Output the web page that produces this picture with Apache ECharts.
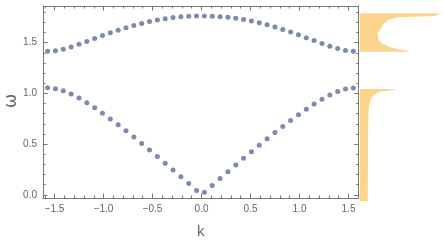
<!DOCTYPE html>
<html>
<head>
<meta charset="utf-8">
<script src="https://cdn.jsdelivr.net/npm/echarts@6/dist/echarts.min.js"></script>
<style>html,body{margin:0;padding:0;background:#fff}#c{width:444px;height:244px}</style>
</head>
<body>
<div id="c"></div>
<script>
// wave number k (sample positions)
const kValues = [-1.5708,-1.4908,-1.4108,-1.3308,-1.2508,-1.1708,-1.0908,-1.0108,-0.9308,-0.8508,-0.7708,-0.6908,-0.6108,-0.5308,-0.4508,-0.3708,-0.2908,-0.2108,-0.1308,-0.0508,0.0292,0.1092,0.1892,0.2692,0.3492,0.4292,0.5092,0.5892,0.6692,0.7492,0.8292,0.9092,0.9892,1.0692,1.1492,1.2292,1.3092,1.3892,1.4692,1.5492];
// optical branch ω
const omegaOptical = [1.414,1.420,1.435,1.457,1.484,1.512,1.541,1.569,1.597,1.623,1.647,1.669,1.689,1.707,1.723,1.736,1.747,1.755,1.760,1.763,1.763,1.761,1.756,1.749,1.739,1.727,1.712,1.695,1.675,1.653,1.630,1.604,1.577,1.549,1.520,1.491,1.464,1.441,1.423,1.415];
// acoustic branch ω
const omegaAcoustic = [1.054,1.046,1.025,0.993,0.953,0.908,0.858,0.804,0.748,0.690,0.630,0.569,0.506,0.442,0.377,0.311,0.245,0.178,0.111,0.043,0.025,0.092,0.160,0.227,0.293,0.359,0.424,0.489,0.552,0.614,0.674,0.733,0.790,0.844,0.895,0.942,0.983,1.017,1.042,1.053];
// density of states outline (upper band)
const dosUpperOmega   = [1.417,1.417,1.428,1.442,1.468,1.500,1.530,1.600,1.675,1.726,1.751,1.765,1.790,1.790];
const dosUpperDensity = [0,    0.57, 0.57, 0.45, 0.33, 0.26, 0.22, 0.21, 0.27, 0.33, 0.45, 0.90, 0.95, 0];
// density of states outline (lower band)
const dosLowerOmega   = [-0.032,-0.032,0.50, 0.80, 0.90, 0.95, 0.997,1.029,1.047,1.056,1.056];
const dosLowerDensity = [0,     0.092, 0.095,0.10, 0.11, 0.125,0.16, 0.24, 0.42, 0.42, 0];
// tick labels
const xTickLabels = [-1.5,-1.0,-0.5,0.0,0.5,1.0,1.5];
const yTickLabels = [0.0,0.5,1.0,1.5];
const xAxisTitle = 'k';
const yAxisTitle = '\u03c9';

const xMin = -1.618, xMax = 1.604, yMin = -0.032, yMax = 1.861;
function minorTicks(lo, hi, majors){
  const out=[];
  for(let i=Math.ceil(lo*10);i<=Math.floor(hi*10);i++){
    const v=i/10; if(!majors.some(m=>Math.abs(m-v)<1e-9)) out.push(v);
  }
  return out;
}
const xMinor = minorTicks(xMin,xMax,xTickLabels);
const yMinor = minorTicks(yMin,yMax,yTickLabels);

const frameColor = '#777';
const fmt = v => (v<0?'\u2212':'') + Math.abs(v).toFixed(1);
function xAx(pos, major, labels){
  return {type:'value', gridIndex:0, position:pos, min:xMin, max:xMax,
    axisLine:{show:major, onZero:false, lineStyle:{color:frameColor,width:1}},
    splitLine:{show:false},
    axisTick:{show:true, inside:true, length: major?4.5:2.5, customValues: major?xTickLabels:xMinor, lineStyle:{color:frameColor}},
    axisLabel:{show:labels, customValues:xTickLabels, formatter:fmt, color:'#666', fontSize:10, fontFamily:'Liberation Sans', margin:6},
    name: labels?xAxisTitle:'', nameLocation:'middle', nameGap:26,
    nameTextStyle:{color:'#666', fontSize:15, fontFamily:'Liberation Sans'}};
}
function yAx(pos, major, labels){
  return {type:'value', gridIndex:0, position:pos, min:yMin, max:yMax,
    axisLine:{show:major, onZero:false, lineStyle:{color:frameColor,width:1}},
    splitLine:{show:false},
    axisTick:{show:true, inside:true, length: major?4.5:2.5, customValues: major?yTickLabels:yMinor, lineStyle:{color:frameColor}},
    axisLabel:{show:labels, customValues:yTickLabels, formatter:fmt, color:'#666', fontSize:10, fontFamily:'Liberation Sans', margin:6}};
}
const fillColor = '#FCD48C';
function polySeries(om, de){
  return {type:'custom', xAxisIndex:4, yAxisIndex:4, coordinateSystem:'cartesian2d',
    data: om.map((w,i)=>[de[i], w]),
    renderItem:function(params, api){
      if(params.dataIndex!==0) return null;
      const pts = om.map((w,i)=>api.coord([de[i], w]));
      return {type:'polygon', shape:{points:pts}, style:{fill:fillColor}};
    }, silent:true, animation:false};
}
const chart = echarts.init(document.getElementById('c'));
chart.setOption({
  animation:false,
  grid:[{left:43, top:6, width:315.7, height:195},
        {left:360, top:6, width:84, height:195}],
  graphic:[{type:'text', x:12, y:101, rotation:Math.PI/2,
    style:{text:yAxisTitle, fill:'#666', fontSize:17, fontFamily:'DejaVu Sans', align:'center', verticalAlign:'middle'}}],
  xAxis:[xAx('bottom',true,true), xAx('bottom',false,false), xAx('top',true,false), xAx('top',false,false),
    {type:'value', gridIndex:1, min:0, max:1, show:false}],
  yAxis:[yAx('left',true,true), yAx('left',false,false), yAx('right',true,false), yAx('right',false,false),
    {type:'value', gridIndex:1, min:yMin, max:yMax, show:false}],
  series:[
    {type:'scatter', xAxisIndex:0, yAxisIndex:0, symbolSize:5, itemStyle:{color:'#5d6c9f'},
     data:kValues.map((k,i)=>[k, omegaOptical[i]])},
    {type:'scatter', xAxisIndex:0, yAxisIndex:0, symbolSize:5, itemStyle:{color:'#5d6c9f'},
     data:kValues.map((k,i)=>[k, omegaAcoustic[i]])},
    polySeries(dosUpperOmega, dosUpperDensity),
    polySeries(dosLowerOmega, dosLowerDensity)
  ]
});
</script>
</body>
</html>
